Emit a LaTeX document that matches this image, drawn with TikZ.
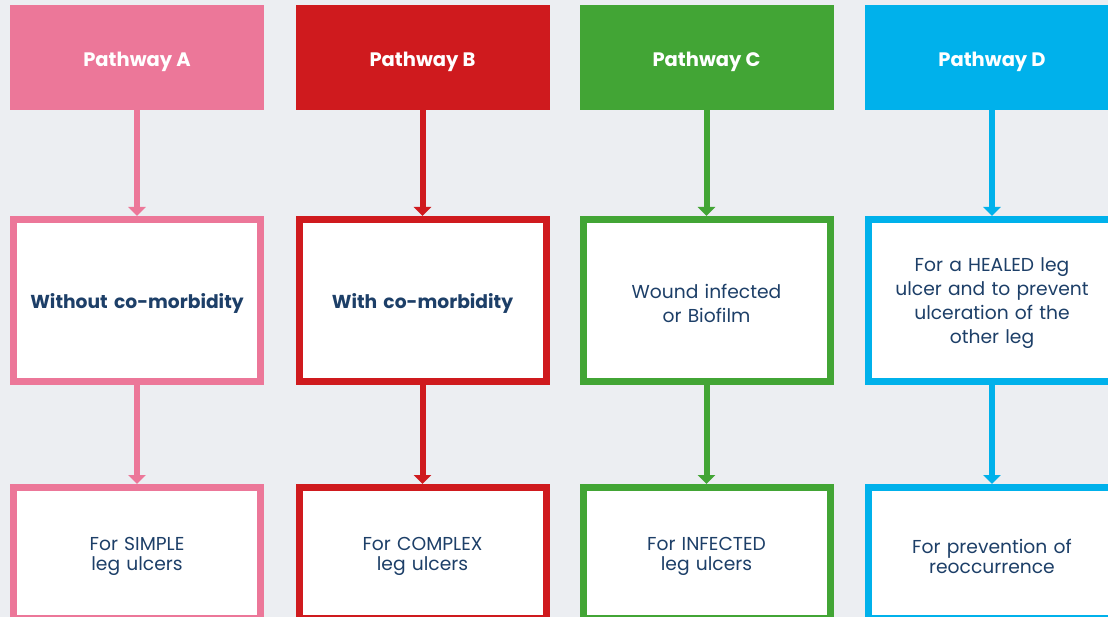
\documentclass[tikz,border=0pt]{standalone}
\usepackage{fontspec}
\setmainfont{Poppins}
\usetikzlibrary{arrows.meta}
\definecolor{bgc}{HTML}{ECEEF2}
\definecolor{pA}{HTML}{EC7799}
\definecolor{pB}{HTML}{CF1A1E}
\definecolor{pC}{HTML}{42A535}
\definecolor{pD}{HTML}{00B1EB}
\definecolor{txt}{HTML}{1D3F68}
\begin{document}
\begin{tikzpicture}[x=1pt,y=-1pt,
  head/.style={fill=#1,draw=none,minimum width=254pt,minimum height=105pt,inner sep=0pt,
    text height=18pt,text depth=0pt,
    text=white,font=\fontsize{19.5}{22}\selectfont\bfseries},
  midbox/.style={fill=white,draw=#1,line width=7pt,minimum width=247pt,minimum height=162pt,
    inner sep=0pt},
  botbox/.style={fill=white,draw=#1,line width=7pt,minimum width=247pt,minimum height=131pt,
    inner sep=0pt},
  mtext/.style={inner sep=0pt,text=txt,align=center,text width=230pt,
    font=\fontsize{18.7}{24}\selectfont,yshift=-3pt},
  btext/.style={inner sep=0pt,text=txt,align=center,text width=230pt,
    font=\fontsize{18.7}{19.5}\selectfont,yshift=-3.5pt},
  conn/.style={draw=#1,line width=6pt,-{Triangle[width=17pt,length=9pt]}}]
\fill[bgc] (0,0) rectangle (1108,617);
\clip (0,0) rectangle (1108,617);
% column A
\node[head=pA] (hA) at (137,57.5) {Pathway A};
\node[midbox=pA,label={[mtext]center:{\bfseries Without co-morbidity}}] (mA) at (137,300.5) {};
\node[botbox=pA,label={[btext]center:{For SIMPLE\\leg ulcers}}] (bA) at (137,553) {};
% column B
\node[head=pB] (hB) at (422.5,57.5) {Pathway B};
\node[midbox=pB,label={[mtext]center:{\bfseries With co-morbidity}}] (mB) at (422.5,300.5) {};
\node[botbox=pB,label={[btext]center:{For COMPLEX\\leg ulcers}}] (bB) at (422.5,553) {};
% column C
\node[head=pC] (hC) at (706.5,57.5) {Pathway C};
\node[midbox=pC,label={[mtext]center:{Wound infected\\or Biofilm}}] (mC) at (706.5,300.5) {};
\node[botbox=pC,label={[btext]center:{For INFECTED\\leg ulcers}}] (bC) at (706.5,553) {};
% column D
\node[head=pD] (hD) at (992,57.5) {Pathway D};
\node[midbox=pD,label={[mtext]center:{For a HEALED leg\\ulcer and to prevent\\ulceration of the\\other leg}}] (mD) at (992,300.5) {};
\node[botbox=pD,label={[btext]center:{For prevention of\\reoccurrence}}] (bD) at (992,553) {};
% connectors
\draw[conn=pA] (hA.south) -- (mA.north);
\draw[conn=pA] (mA.south) -- (bA.north);
\draw[conn=pB] (hB.south) -- (mB.north);
\draw[conn=pB] (mB.south) -- (bB.north);
\draw[conn=pC] (hC.south) -- (mC.north);
\draw[conn=pC] (mC.south) -- (bC.north);
\draw[conn=pD] (hD.south) -- (mD.north);
\draw[conn=pD] (mD.south) -- (bD.north);
\end{tikzpicture}
\end{document}
